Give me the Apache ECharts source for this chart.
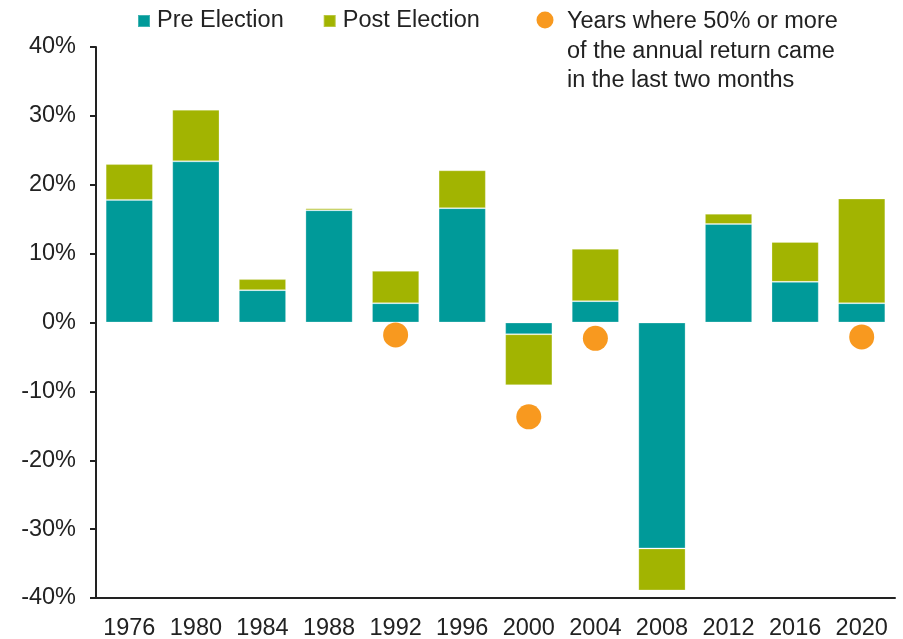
<!DOCTYPE html>
<html>
<head>
<meta charset="utf-8">
<title>Election year returns</title>
<script src="https://cdn.jsdelivr.net/npm/echarts@6/dist/echarts.min.js"></script>
<style>
  html, body { margin: 0; padding: 0; background: #fff; }
  #chart { width: 903px; height: 639px; }
</style>
</head>
<body>
<div id="chart"></div>
<script>
  // election years
  var years = ['1976', '1980', '1984', '1988', '1992', '1996', '2000', '2004', '2008', '2012', '2016', '2020'];
  // return before the election (%)
  var preElection = [17.8, 23.4, 4.7, 16.3, 2.8, 16.6, -1.7, 3.1, -32.8, 14.3, 5.9, 2.8];
  // return after the election (%), stacked on top of pre
  var postElection = [5.2, 7.5, 1.6, 0.3, 4.7, 5.5, -7.4, 7.6, -6.1, 1.5, 5.8, 15.2];
  // marker dots for years where most of the return came late
  var lateYears = ['-', '-', '-', '-', -1.8, '-', -13.7, -2.3, '-', '-', '-', -2.1];

  var font = "'Liberation Sans', Arial, sans-serif";
  var ink = '#222222';
  var orange = '#f8991f';
  var dotName = 'Years where 50% or more\nof the annual return came\nin the last two months';

  var myChart = echarts.init(document.getElementById('chart'));

  var option = {
    animation: false,
    textStyle: { fontFamily: font },
    grid: {
      left: 96,
      right: 8,
      top: 47,
      bottom: 41,
      outerBoundsMode: 'none'
    },
    legend: {
      data: ['Pre Election', 'Post Election'],
      left: 137,
      top: 9,
      padding: 0,
      icon: 'rect',
      itemWidth: 12,
      itemHeight: 12,
      itemGap: 39,
      textStyle: { fontSize: 23.5, color: ink, fontFamily: font, padding: [0, 0, 0, 2] }
    },
    // key for the orange dots (three line text, circle level with first line)
    graphic: [{
      type: 'circle',
      shape: { cx: 545, cy: 20, r: 8.5 },
      style: { fill: orange }
    }, {
      type: 'text',
      left: 567,
      top: 7,
      style: {
        text: dotName,
        fontSize: 23.5,
        lineHeight: 29.5,
        fontFamily: font,
        fill: ink
      }
    }],
    xAxis: {
      type: 'category',
      data: years,
      axisTick: { show: false },
      axisLine: { onZero: false, lineStyle: { color: ink, width: 2 } },
      axisLabel: { interval: 0, fontSize: 23.5, color: ink, margin: 19, fontFamily: font }
    },
    yAxis: {
      type: 'value',
      min: -40,
      max: 40,
      interval: 10,
      splitLine: { show: false },
      axisLine: { show: true, lineStyle: { color: ink, width: 2 } },
      axisTick: { show: true, length: 6, lineStyle: { color: ink, width: 2 } },
      axisLabel: { formatter: '{value}%', fontSize: 23.5, color: ink, margin: 20, fontFamily: font }
    },
    series: [{
      name: 'Pre Election',
      type: 'bar',
      stack: 'total',
      barWidth: '71%',
      data: preElection,
      itemStyle: { color: '#009a99', borderColor: 'rgba(255,255,255,0.25)', borderWidth: 1 }
    }, {
      name: 'Post Election',
      type: 'bar',
      stack: 'total',
      barWidth: '71%',
      data: postElection,
      itemStyle: { color: '#a2b401', borderColor: 'rgba(255,255,255,0.25)', borderWidth: 1 }
    }, {
      name: 'Late return years',
      type: 'scatter',
      symbol: 'circle',
      symbolSize: 25,
      data: lateYears,
      z: 5,
      itemStyle: { color: orange, opacity: 1 }
    }]
  };

  myChart.setOption(option);
</script>
</body>
</html>
